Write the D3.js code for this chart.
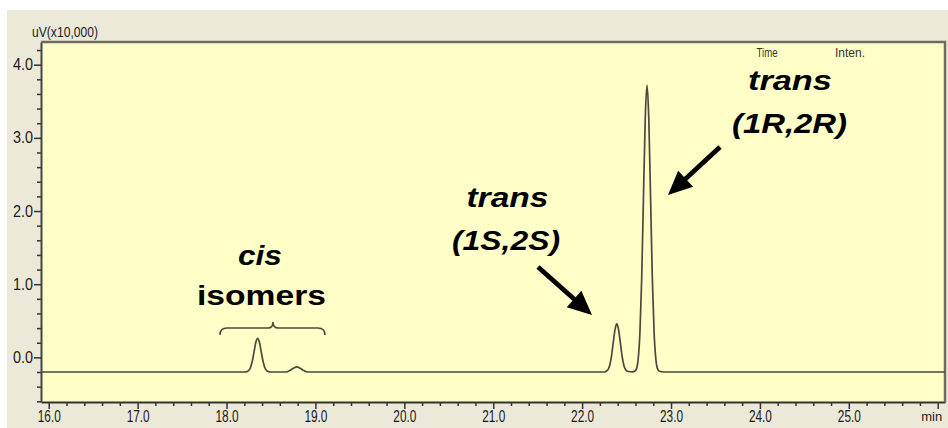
<!DOCTYPE html>
<html>
<head>
<meta charset="utf-8">
<script src="https://cdn.jsdelivr.net/npm/d3@7"></script>
<style>
  html, body { margin: 0; padding: 0; background: #fff; }
  svg { display: block; }
  .tick text { font-family: "Liberation Sans Narrow", "Arial Narrow", "Liberation Sans", Arial, sans-serif; fill: #1a1a1a; }
  .anno { font-family: "Liberation Sans", Arial, sans-serif; font-weight: bold; fill: #000; }
</style>
</head>
<body>
<div id="chart"></div>
<script>
// chromatogram trace (min, uV x10,000)
var traceTime = [
  15.913, 18.20, 18.23, 18.25, 18.27, 18.29, 18.31, 18.33, 18.35, 18.37, 18.39, 18.41, 18.43, 18.45, 18.47, 18.50,
  18.67, 18.71, 18.75, 18.79, 18.83, 18.87, 18.91,
  22.25, 22.27, 22.29, 22.31, 22.33, 22.35, 22.37, 22.39, 22.41, 22.43, 22.45, 22.47, 22.49, 22.51,
  22.57, 22.59, 22.61, 22.63, 22.65, 22.67, 22.69, 22.71, 22.73, 22.75, 22.77, 22.79, 22.81, 22.83, 22.85, 22.87,
  22.92, 26.082
];
var traceSignal = [
  -0.20, -0.20, -0.195, -0.18, -0.138, -0.05, 0.079, 0.206, 0.26, 0.206, 0.079, -0.05, -0.138, -0.18, -0.195, -0.20,
  -0.20, -0.18, -0.15, -0.13, -0.15, -0.18, -0.20,
  -0.20, -0.19, -0.17, -0.11, 0.015, 0.20, 0.38, 0.46, 0.38, 0.20, 0.015, -0.11, -0.17, -0.19,
  -0.198, -0.19, -0.16, -0.03, 0.33, 1.07, 2.18, 3.26, 3.72, 3.26, 2.18, 1.07, 0.33, -0.03, -0.16, -0.19,
  -0.20, -0.20
];

var xMajor = [16, 17, 18, 19, 20, 21, 22, 23, 24, 25, 26];
var xLabels = ["16.0", "17.0", "18.0", "19.0", "20.0", "21.0", "22.0", "23.0", "24.0", "25.0", "min"];
var yMajor = [0, 1, 2, 3, 4];
var yLabels = ["0.0", "1.0", "2.0", "3.0", "4.0"];

// annotations, anchored in data units [time, signal]
var labelTexts = ["cis", "isomers", "trans", "(1S,2S)", "trans", "(1R,2R)"];
var labelAt = [[18.376, 1.262], [18.393, 0.716], [21.160, 2.055], [21.144, 1.467], [24.338, 3.654], [24.333, 3.066]];
var labelItalic = [true, false, true, true, true, true];
var labelWidth = [44, 129, 82, 108, 84, 115];
var arrowFrom = [[21.504, 1.235], [23.551, 2.875]];
var arrowTo = [[22.111, 0.579], [22.966, 2.219]];
var braceSpan = [17.926, 19.107];
var braceTip = 18.523;

var W = 948, H = 428;
var plot = { left: 41, right: 945, top: 42, bottom: 402 };

var svg = d3.select("#chart").append("svg").attr("width", W).attr("height", H);

// window background
svg.append("rect").attr("x", 7).attr("y", 10).attr("width", W - 7).attr("height", H - 10).attr("fill", "#ece9d8");
svg.append("rect")
  .attr("x", plot.left).attr("y", plot.top)
  .attr("width", plot.right - plot.left).attr("height", plot.bottom - plot.top)
  .attr("fill", "#ffffc8");

var x = d3.scaleLinear().domain([15.913, 26.082]).range([plot.left, plot.right]);
var y = d3.scaleLinear().domain([-0.61, 4.31]).range([plot.bottom, plot.top]);

// minor ticks every 0.2
var xMinor = d3.range(80, 131).map(function (d) { return d / 5; }).filter(function (d) { return d % 1 !== 0; });
var yMinor = d3.range(-3, 22).map(function (d) { return d / 5; }).filter(function (d) { return Math.abs(d % 1) > 1e-9; });

svg.append("g").attr("transform", "translate(0," + plot.bottom + ")")
  .call(d3.axisBottom(x).tickValues(xMinor).tickSize(4).tickSizeOuter(0).tickFormat(""))
  .call(function (g) { g.select(".domain").remove(); g.selectAll("line").attr("stroke", "#333").attr("stroke-width", 1.5); });

var last = xLabels.length - 1;
var xAxis = svg.append("g").attr("transform", "translate(0," + plot.bottom + ")")
  .call(d3.axisBottom(x).tickValues(xMajor).tickSize(7).tickSizeOuter(0).tickPadding(3)
    .tickFormat(function (d, i) { return xLabels[i]; }));
xAxis.select(".domain").attr("stroke", "#333").attr("stroke-width", 2);
xAxis.selectAll("line").attr("stroke", "#333").attr("stroke-width", 1.5);
xAxis.selectAll("text").filter(function (d, i) { return i !== last; })
  .attr("font-size", 17).attr("dy", "0.6em")
  .attr("textLength", 23).attr("lengthAdjust", "spacingAndGlyphs");
xAxis.selectAll("text").filter(function (d, i) { return i === last; })
  .attr("font-size", 13).attr("dy", "0.7em")
  .attr("text-anchor", "end").attr("dx", 4);

svg.append("g").attr("transform", "translate(" + plot.left + ",0)")
  .call(d3.axisLeft(y).tickValues(yMinor).tickSize(4).tickSizeOuter(0).tickFormat(""))
  .call(function (g) { g.select(".domain").remove(); g.selectAll("line").attr("stroke", "#333").attr("stroke-width", 1.5); });

var yAxis = svg.append("g").attr("transform", "translate(" + plot.left + ",0)")
  .call(d3.axisLeft(y).tickValues(yMajor).tickSize(7).tickSizeOuter(0).tickPadding(1)
    .tickFormat(function (d, i) { return yLabels[i]; }));
yAxis.select(".domain").attr("stroke", "#444").attr("stroke-width", 2);
yAxis.selectAll("line").attr("stroke", "#333").attr("stroke-width", 1.5);
yAxis.selectAll("text").attr("font-size", 16)
  .attr("textLength", 20).attr("lengthAdjust", "spacingAndGlyphs");

// top and right frame
svg.append("path")
  .attr("d", "M" + plot.left + "," + plot.top + "H" + plot.right + "V" + plot.bottom)
  .attr("fill", "none").attr("stroke", "#6e6c60").attr("stroke-width", 2.5);

svg.append("text").attr("x", 32).attr("y", 37)
  .attr("font-family", "'Liberation Sans Narrow', 'Liberation Sans', Arial, sans-serif").attr("font-size", 14)
  .attr("textLength", 66).attr("lengthAdjust", "spacingAndGlyphs").attr("fill", "#222")
  .text("uV(x10,000)");

svg.selectAll("text.hdr").data([["Time", 767, 21], ["Inten.", 850, 30]]).join("text")
  .attr("class", "hdr").attr("x", function (d) { return d[1]; }).attr("y", 57)
  .attr("text-anchor", "middle")
  .attr("font-family", "'Liberation Sans Narrow', 'Liberation Sans', Arial, sans-serif").attr("font-size", 13)
  .attr("textLength", function (d) { return d[2]; }).attr("lengthAdjust", "spacingAndGlyphs").attr("fill", "#333")
  .text(function (d) { return d[0]; });

// trace
var pts = traceTime.map(function (t, i) { return [t, traceSignal[i]]; });
var line = d3.line().x(function (d) { return x(d[0]); }).y(function (d) { return y(d[1]); }).curve(d3.curveMonotoneX);
svg.append("path").datum(pts).attr("d", line)
  .attr("fill", "none").attr("stroke", "#4a4a3c").attr("stroke-width", 1.7).attr("stroke-linejoin", "round");

// brace over the cis isomers
var bx0 = x(braceSpan[0]), bx1 = x(braceSpan[1]), bt = x(braceTip);
var by = y(0.401), byEnd = y(0.305), byTip = y(0.483);
var brace = d3.path();
brace.moveTo(bx0, byEnd);
brace.quadraticCurveTo(bx0, by, bx0 + 7, by);
brace.lineTo(bt - 5, by);
brace.quadraticCurveTo(bt, by, bt, byTip);
brace.quadraticCurveTo(bt, by, bt + 5, by);
brace.lineTo(bx1 - 7, by);
brace.quadraticCurveTo(bx1, by, bx1, byEnd);
svg.append("path").attr("d", brace.toString())
  .attr("fill", "none").attr("stroke", "#4a4a3c").attr("stroke-width", 1.6);

// arrows
arrowFrom.forEach(function (f, i) {
  var x0 = x(f[0]), y0 = y(f[1]), x1 = x(arrowTo[i][0]), y1 = y(arrowTo[i][1]);
  var dx = x1 - x0, dy = y1 - y0, len = Math.sqrt(dx * dx + dy * dy);
  var ux = dx / len, uy = dy / len, nx = -uy, ny = ux;
  var headLen = 24, headW = 11, shaftW = 2.4;
  var bxh = x1 - ux * headLen, byh = y1 - uy * headLen;
  var p = [
    [x0 + nx * shaftW, y0 + ny * shaftW],
    [bxh + nx * shaftW, byh + ny * shaftW],
    [bxh + nx * headW, byh + ny * headW],
    [x1, y1],
    [bxh - nx * headW, byh - ny * headW],
    [bxh - nx * shaftW, byh - ny * shaftW],
    [x0 - nx * shaftW, y0 - ny * shaftW]
  ];
  svg.append("polygon").attr("points", p.map(function (q) { return q.join(","); }).join(" ")).attr("fill", "#000");
});

// labels
svg.selectAll("text.anno").data(labelTexts).join("text")
  .attr("class", "anno")
  .attr("x", function (d, i) { return x(labelAt[i][0]); })
  .attr("y", function (d, i) { return y(labelAt[i][1]); })
  .attr("text-anchor", "middle")
  .attr("font-size", 28)
  .attr("font-style", function (d, i) { return labelItalic[i] ? "italic" : "normal"; })
  .attr("textLength", function (d, i) { return labelWidth[i]; })
  .attr("lengthAdjust", "spacingAndGlyphs")
  .text(function (d) { return d; });
</script>
</body>
</html>
